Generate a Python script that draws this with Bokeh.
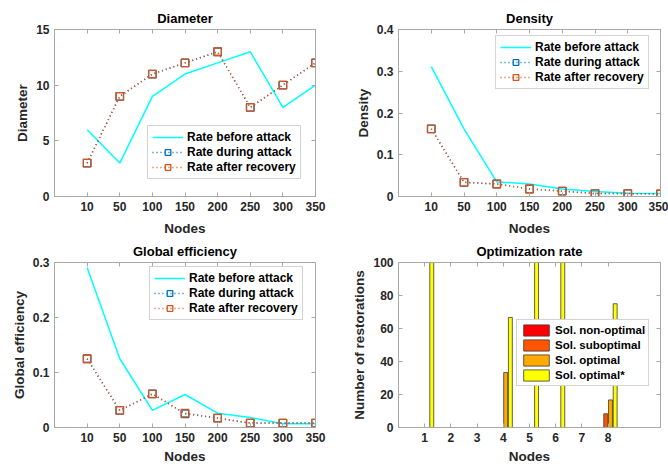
from bokeh.plotting import figure
from bokeh.models import (Range1d, FixedTicker, LinearAxis, Legend, LegendItem,
                          ColumnDataSource, CustomLabelingPolicy)
from bokeh.layouts import column, row
from bokeh.transform import dodge
from bokeh.embed import file_html
from bokeh.resources import INLINE

# ---------------- data ----------------
nodes = ["10", "50", "100", "150", "200", "250", "300", "350"]

diam_before = [6, 3, 9, 11, 12, 13, 8, 10]
diam_during = [3, 9, 11, 12, 13, 8, 10, 12]
diam_after = [3, 9, 11, 12, 13, 8, 10, 12]

dens_before = [0.311, 0.162, 0.035, 0.030, 0.018, 0.012, 0.008, 0.007]
dens_during = [0.162, 0.034, 0.030, 0.018, 0.013, 0.007, 0.007, 0.006]
dens_after = [0.162, 0.034, 0.030, 0.018, 0.013, 0.007, 0.007, 0.006]

geff_before = [0.291, 0.125, 0.031, 0.060, 0.026, 0.018, 0.007, 0.007]
geff_during = [0.125, 0.031, 0.061, 0.025, 0.017, 0.008, 0.008, 0.008]
geff_after = [0.125, 0.031, 0.061, 0.026, 0.017, 0.008, 0.008, 0.008]

opt_categories = ["1", "2", "3", "4", "5", "6", "7", "8"]
sol_non_optimal = [0, 0, 0, 0, 0, 0, 0, 0]
sol_suboptimal = [0, 0, 0, 0, 0, 0, 0, 8.3]
sol_optimal = [0, 0, 0, 33.3, 0, 0, 0, 16.7]
sol_optimal_star = [100, 0, 0, 66.7, 100, 100, 0, 75]

series_labels = ["Rate before attack", "Rate during attack", "Rate after recovery"]
bar_labels = ["Sol. non-optimal", "Sol. suboptimal", "Sol. optimal", "Sol. optimal*"]

# ---------------- style ----------------
FONT = "Liberation Sans"
AX_COL = "#a8a8a8"
TXT_COL = "#262626"
C_BEFORE = "#00FFFF"
C_DURING = "#0072BD"
C_AFTER = "#D95319"
BAR_COLS = ["#FF0000", "#FF5500", "#FFAA00", "#FFFF00"]


def base_fig(title, ylabel, xmax, ymax, xticks, xlabels, yticks, left, right,
             height, top_b, bottom_b, label_standoff):
    p = figure(width=334, height=height, x_range=Range1d(0, xmax), y_range=Range1d(0, ymax),
               output_backend="svg", toolbar_location=None,
               min_border_left=left, min_border_right=right,
               min_border_top=top_b, min_border_bottom=bottom_b)
    p.title.text = title
    p.title.align = "center"
    p.title.text_font = FONT
    p.title.text_font_size = "13px"
    p.title.text_font_style = "bold"
    p.title.text_color = "#000000"
    p.title.standoff = 0
    p.grid.visible = False
    p.outline_line_color = AX_COL
    p.background_fill_color = "white"
    p.border_fill_color = "white"

    xa = p.xaxis[0]
    xa.ticker = FixedTicker(ticks=xticks)
    xa.major_label_overrides = {t: l for t, l in zip(xticks, xlabels)}
    xa.axis_label = "Nodes"
    ya = p.yaxis[0]
    ya.ticker = FixedTicker(ticks=yticks)
    ya.major_label_overrides = {0: "0"}
    ya.axis_label = ylabel
    for a in (xa, ya):
        a.axis_line_color = AX_COL
        a.major_tick_line_color = AX_COL
        a.major_tick_in = 4
        a.major_tick_out = 0
        a.minor_tick_line_color = None
        a.major_label_text_font = FONT
        a.major_label_text_font_size = "12px"
        a.major_label_text_font_style = "bold"
        a.major_label_text_color = TXT_COL
        a.axis_label_text_font = FONT
        a.axis_label_text_font_size = "13.5px"
        a.axis_label_text_font_style = "bold"
        a.axis_label_text_color = TXT_COL
        a.major_label_standoff = 5
        a.axis_label_standoff = 3
    xa.axis_label_standoff = label_standoff

    # mirrored box ticks (labels suppressed)
    top = LinearAxis(ticker=FixedTicker(ticks=xticks))
    rgt = LinearAxis(ticker=FixedTicker(ticks=yticks))
    for a in (top, rgt):
        a.axis_line_color = AX_COL
        a.major_tick_line_color = AX_COL
        a.major_tick_in = 4
        a.major_tick_out = 0
        a.minor_tick_line_color = None
        a.major_label_text_font_size = "1px"
        a.major_label_standoff = 0
        a.major_label_policy = CustomLabelingPolicy(
            code="for (const i of Array.from(indices)) indices.unset(i)")
    p.add_layout(top, "above")
    p.add_layout(rgt, "right")
    return p


def style_legend(leg, gw, gh, lh, size="12px", pad=4, stand=4):
    leg.label_text_font = FONT
    leg.label_text_font_size = size
    leg.label_text_font_style = "bold"
    leg.label_text_color = "#000000"
    leg.border_line_color = AX_COL
    leg.background_fill_color = "white"
    leg.background_fill_alpha = 1.0
    leg.glyph_width = gw
    leg.glyph_height = gh
    leg.label_height = lh
    leg.spacing = 1
    leg.padding = pad
    leg.margin = 0
    leg.label_standoff = stand


def line_fig(title, ylabel, ymax, yticks, before, during, after, loc, left, right,
             height, top_b, bottom_b, label_standoff):
    xs = list(range(1, len(nodes) + 1))
    p = base_fig(title, ylabel, len(nodes), ymax, xs, nodes, yticks, left, right,
                 height, top_b, bottom_b, label_standoff)
    src = ColumnDataSource(dict(x=xs, before=before, during=during, after=after))
    r1 = p.line("x", "before", source=src, line_color=C_BEFORE, line_width=1.5)
    r2l = p.line("x", "during", source=src, line_color=C_DURING, line_width=1.5, line_dash="1 3")
    r2m = p.scatter("x", "during", source=src, marker="square", size=7.5, fill_color=None,
                    line_color=C_DURING, line_width=1.3)
    r3l = p.line("x", "after", source=src, line_color=C_AFTER, line_width=1.5, line_dash="1 3")
    r3m = p.scatter("x", "after", source=src, marker="square", size=7.5, fill_color=None,
                    line_color=C_AFTER, line_width=1.3)
    leg = Legend(items=[LegendItem(label=series_labels[0], renderers=[r1]),
                        LegendItem(label=series_labels[1], renderers=[r2l, r2m]),
                        LegendItem(label=series_labels[2], renderers=[r3l, r3m])],
                 location=loc)
    style_legend(leg, 31, 14, 14)
    p.add_layout(leg)
    return p


p1 = line_fig("Diameter", "Diameter", 15, [0, 5, 10, 15],
              diam_before, diam_during, diam_after, (93, 17), 54, 19, 239, 29, 43, 7)
p2 = line_fig("Density", "Density", 0.4, [0, 0.1, 0.2, 0.3, 0.4],
              dens_before, dens_during, dens_after, (97, 107), 64, 8, 239, 29, 43, 7)
p3 = line_fig("Global efficiency", "Global efficiency", 0.3, [0, 0.1, 0.2, 0.3],
              geff_before, geff_during, geff_after, (95, 107), 54, 19, 227, 23, 38, 4)

# ---------------- bar chart ----------------
bx = list(range(1, len(opt_categories) + 1))
p4 = base_fig("Optimization rate", "Number of restorations", 10, 100, bx, opt_categories,
              [0, 20, 40, 60, 80, 100], 64, 8, 227, 23, 38, 4)
bsrc = ColumnDataSource(dict(x=bx, s0=sol_non_optimal, s1=sol_suboptimal,
                             s2=sol_optimal, s3=sol_optimal_star))
offsets = [-0.27, -0.09, 0.09, 0.27]
bar_rs = []
for i, (off, col) in enumerate(zip(offsets, BAR_COLS)):
    r = p4.vbar(x=dodge("x", off, range=p4.x_range), top="s%d" % i, width=0.15, bottom=0,
                source=bsrc, fill_color=col, line_color="#3a3a3a", line_width=0.8)
    bar_rs.append(r)
leg4 = Legend(items=[LegendItem(label=l, renderers=[r]) for l, r in zip(bar_labels, bar_rs)],
              location=(118, 41))
style_legend(leg4, 32, 14, 14, size="11.5px", pad=3, stand=3)
p4.add_layout(leg4)

layout = column(row(p1, p2), row(p3, p4))
open("out.html", "w").write(file_html(layout, INLINE))
